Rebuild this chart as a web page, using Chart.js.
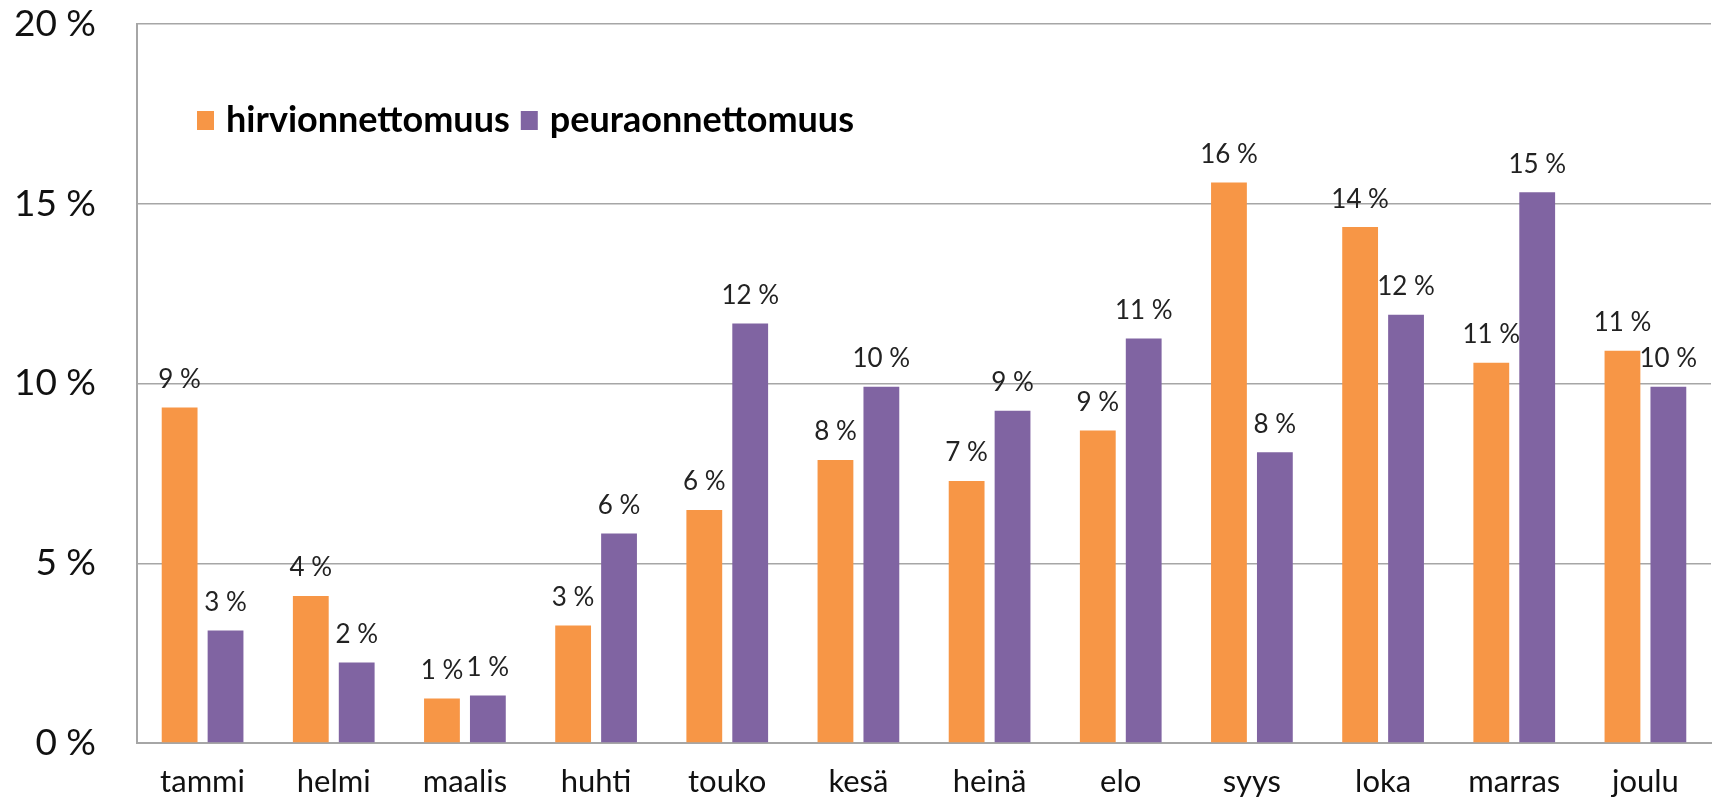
<!DOCTYPE html>
<html>
<head>
<meta charset="utf-8">
<script src="https://cdn.jsdelivr.net/npm/chart.js@4"></script>
<style>
  html, body { margin: 0; padding: 0; background: #fff; }
  #wrap { width: 1714px; height: 799px; }
</style>
</head>
<body>
<div id="wrap"><canvas id="chart1"></canvas></div>
<script>
const months = ['tammi', 'helmi', 'maalis', 'huhti', 'touko', 'kesä', 'heinä', 'elo', 'syys', 'loka', 'marras', 'joulu'];
const hirvi = [9.33, 4.09, 1.24, 3.27, 6.48, 7.87, 7.29, 8.69, 15.59, 14.35, 10.58, 10.91];
const peura = [3.13, 2.24, 1.32, 5.83, 11.67, 9.91, 9.24, 11.25, 8.09, 11.91, 15.32, 9.91];
const seriesNames = ['hirvionnettomuus', 'peuraonnettomuus'];
const seriesColors = ['#F79646', '#8064A2'];
const yTicks = [0, 5, 10, 15, 20];

const FONT = 'Lato, "Open Sans", sans-serif';
Chart.defaults.font.family = FONT;
Chart.defaults.color = '#1a1a1a';

// value labels above the bars
const valueLabels = {
    id: 'valueLabels',
    afterDatasetsDraw(chart) {
        const ctx = chart.ctx;
        ctx.save();
        ctx.font = '26px ' + FONT;
        ctx.fillStyle = '#222';
        ctx.textAlign = 'center';
        ctx.textBaseline = 'middle';
        chart.data.datasets.forEach((ds, i) => {
            const meta = chart.getDatasetMeta(i);
            meta.data.forEach((bar, j) => {
                ctx.fillText(Math.round(ds.data[j]) + ' %', bar.x, bar.y - 28);
            });
        });
        ctx.restore();
    }
};

// legend drawn inside the plot
const innerLegend = {
    id: 'innerLegend',
    afterDraw(chart) {
        const ctx = chart.ctx;
        const area = chart.chartArea;
        let x = area.left + 60;
        const y = area.top + 96;
        ctx.save();
        ctx.font = 'bold 36px ' + FONT;
        ctx.textBaseline = 'middle';
        chart.data.datasets.forEach((ds) => {
            ctx.fillStyle = ds.backgroundColor;
            ctx.fillRect(x, y - 9, 17, 19);
            x += 29;
            ctx.fillStyle = '#000';
            ctx.fillText(ds.label, x, y);
            x += ctx.measureText(ds.label).width + 11;
        });
        ctx.restore();
    }
};

const ctx1 = document.getElementById('chart1').getContext('2d');
const chart1 = new Chart(ctx1, {
    type: 'bar',
    data: {
        labels: months,
        datasets: [{
            label: seriesNames[0],
            data: hirvi,
            backgroundColor: seriesColors[0],
            categoryPercentage: 0.70,
            barPercentage: 0.78
        }, {
            label: seriesNames[1],
            data: peura,
            backgroundColor: seriesColors[1],
            categoryPercentage: 0.70,
            barPercentage: 0.78
        }]
    },
    options: {
        responsive: true,
        maintainAspectRatio: false,
        animation: false,
        layout: { padding: { top: 24, right: 3, left: 0, bottom: 0 } },
        plugins: {
            legend: { display: false },
            tooltip: { enabled: false }
        },
        scales: {
            x: {
                grid: { display: false, drawTicks: false },
                border: { color: '#a6a6a6', width: 2 },
                ticks: { font: { size: 31 }, color: '#111', padding: 20 },
                afterFit(scale) {
                    scale.height = 56;
                    scale.paddingLeft = 0;
                    scale.paddingRight = 0;
                }
            },
            y: {
                min: 0,
                max: 20,
                afterBuildTicks(scale) { scale.ticks = yTicks.map(v => ({ value: v })); },
                grid: { color: '#a6a6a6', lineWidth: 1.5, drawTicks: false },
                border: { color: '#a6a6a6', width: 2 },
                ticks: {
                    font: { size: 37 },
                    color: '#111',
                    padding: 41,
                    callback: (v) => v + ' %'
                },
                afterFit(scale) {
                    scale.width = 137;
                    scale.paddingTop = 0;
                    scale.paddingBottom = 0;
                }
            }
        }
    },
    plugins: [valueLabels, innerLegend]
});
</script>
</body>
</html>
